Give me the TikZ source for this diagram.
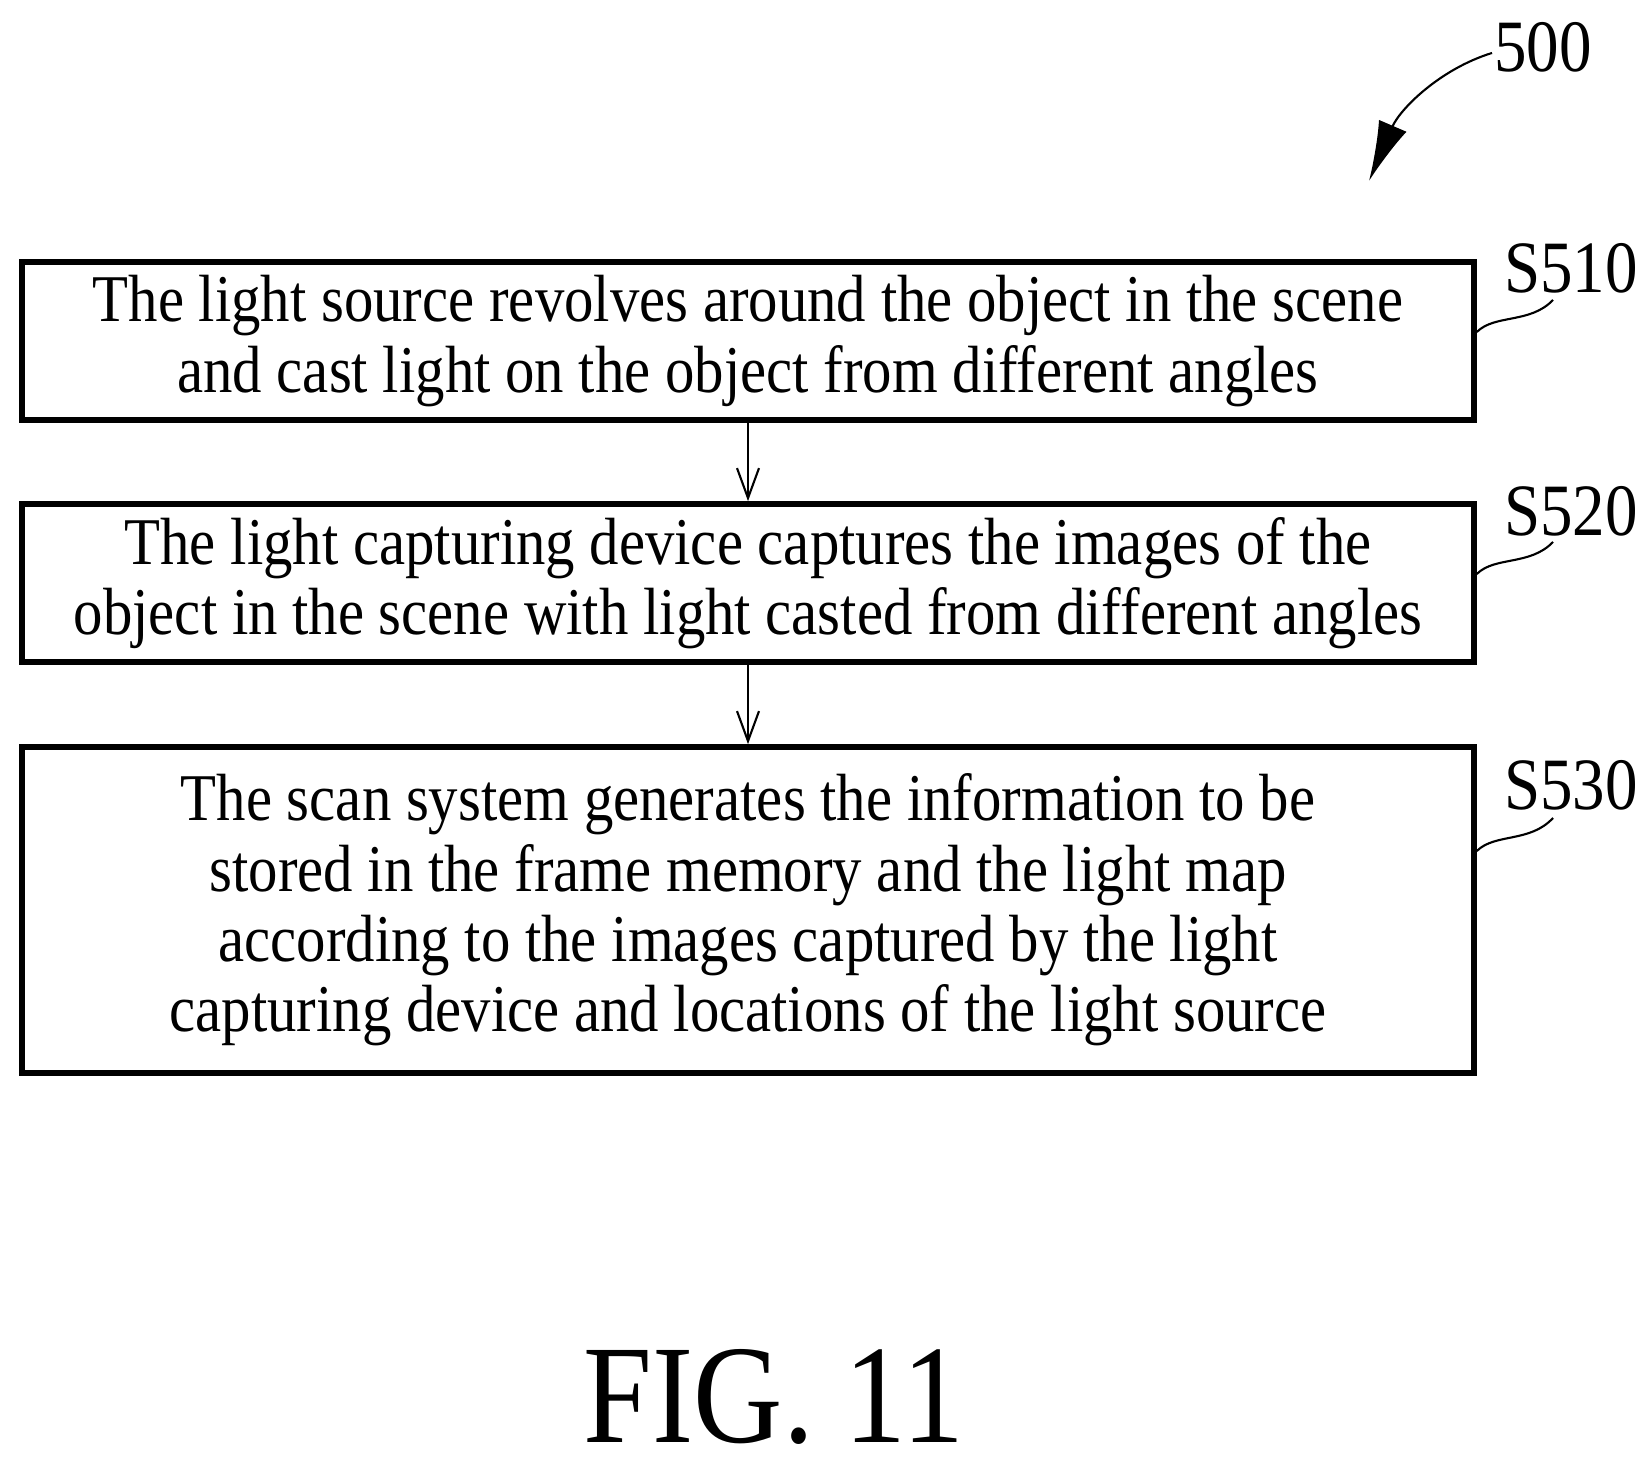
\documentclass[tikz,border=0pt]{standalone}
\usepackage{fontspec}
\setmainfont{Liberation Serif}[FakeStretch=0.88]
\usetikzlibrary{positioning, arrows.meta}

\begin{document}
\begin{tikzpicture}[
  stepbox/.style={draw, line width=1.6pt, minimum width=14.52cm, align=center,
    font=\fontsize{19}{20}\selectfont, inner sep=0pt},
  tag/.style={font=\fontsize{21}{24}\selectfont},
  flow/.style={-{Straight Barb[length=3mm,width=2.2mm]}, line width=0.6pt},
  lead/.style={line width=0.6pt}
]
  \useasboundingbox (0,0) rectangle (16.43,14.59);

  % Steps
  \node[stepbox, minimum height=1.58cm] (s510) at (7.48,11.18)
    {The light source revolves around the object in the scene\\and cast light on the object from different angles};
  \node[stepbox, minimum height=1.58cm] (s520) at (7.48,8.76)
    {The light capturing device captures the images of the\\object in the scene with light casted from different angles};
  \node[stepbox, minimum height=3.26cm] (s530) at (7.48,5.49)
    {The scan system generates the information to be\\stored in the frame memory and the light map\\according to the images captured by the light\\capturing device and locations of the light source};

  \draw[flow] (s510) -- (s520);
  \draw[flow] (s520) -- (s530);

  % Step labels
  \node[tag] (t510) at (15.71,11.91) {S510};
  \node[tag] (t520) at (15.71,9.48) {S520};
  \node[tag] (t530) at (15.71,6.74) {S530};
  \draw[lead] (s510.east |- 0,11.27) .. controls (14.95,11.45) and (15.3,11.35) .. (15.53,11.59);
  \draw[lead] (s520.east |- 0,8.85) .. controls (14.95,9.03) and (15.3,8.93) .. (15.53,9.17);
  \draw[lead] (s530.east |- 0,6.08) .. controls (14.95,6.26) and (15.3,6.16) .. (15.53,6.41);

  % Reference numeral
  \node[tag] (n500) at (15.43,14.12) {500};
  \coordinate (tip) at (13.69,12.78);
  \draw[line width=0.6pt, -{Latex[length=6mm,width=3mm]}] (14.92,14.06) .. controls (14.4,13.9) and (14.0,13.5) .. (tip);

  \node[font=\fontsize{40}{44}\selectfont] (fig) at (7.74,0.62) {FIG. 11};
\end{tikzpicture}
\end{document}
